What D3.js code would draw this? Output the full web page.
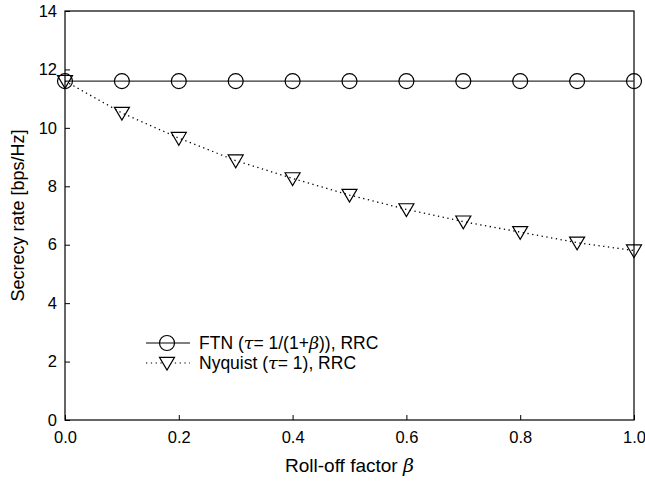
<!DOCTYPE html>
<html>
<head>
<meta charset="utf-8">
<script src="https://cdn.jsdelivr.net/npm/d3@7"></script>
<style>
	body { margin: 0; background: #fff; }
	svg { font-family: "Liberation Sans", Arial, sans-serif; }
</style>
</head>
<body>
<svg id="chart"></svg>
<script>
// roll-off factor values
const beta = [0, 0.1, 0.2, 0.3, 0.4, 0.5, 0.6, 0.7, 0.8, 0.9, 1.0];
const ftnRate = [11.6, 11.6, 11.6, 11.6, 11.6, 11.6, 11.6, 11.6, 11.6, 11.6, 11.6];
const nyquistRate = [11.6, 10.51, 9.65, 8.88, 8.27, 7.70, 7.21, 6.79, 6.43, 6.07, 5.80];
const xTicks = [0, 0.2, 0.4, 0.6, 0.8, 1.0];
const yTicks = [0, 2, 4, 6, 8, 10, 12, 14];

const width = 645, height = 485;
const margin = {top: 11, right: 11, bottom: 65, left: 65};
const w = width - margin.left - margin.right;
const h = height - margin.top - margin.bottom;

const svg = d3.select("#chart")
	.attr("width", width)
	.attr("height", height);

const g = svg.append("g")
	.attr("transform", `translate(${margin.left}, ${margin.top})`);

const x = d3.scaleLinear().domain([0, 1]).range([0, w]);
const y = d3.scaleLinear().domain([0, 14]).range([h, 0]);

// frame
g.append("rect")
	.attr("width", w)
	.attr("height", h)
	.attr("fill", "none")
	.attr("stroke", "black")
	.attr("stroke-width", 1.2);

const xAxis = g.append("g")
	.attr("transform", `translate(0, ${h})`)
	.call(d3.axisBottom(x).tickValues(xTicks).tickFormat(d3.format(".1f"))
		.tickSizeInner(-5).tickSizeOuter(0).tickPadding(11));
const yAxis = g.append("g")
	.call(d3.axisLeft(y).tickValues(yTicks).tickFormat(d3.format("d"))
		.tickSizeInner(-5).tickSizeOuter(0).tickPadding(8));

[xAxis, yAxis].forEach(a => {
	a.select(".domain").remove();
	a.selectAll("text").attr("font-size", 16.5).attr("fill", "black").attr("font-family", "Liberation Sans, Arial, sans-serif");
	a.selectAll("line").attr("stroke", "black");
});

// axis titles
svg.append("text")
	.attr("x", margin.left + w / 2)
	.attr("y", 472)
	.attr("text-anchor", "middle")
	.attr("font-size", 19)
	.html('Roll-off factor <tspan font-style="italic" font-family="DejaVu Serif, serif">β</tspan>');

svg.append("text")
	.attr("transform", `translate(24, ${margin.top + h / 2}) rotate(-90)`)
	.attr("text-anchor", "middle")
	.attr("font-size", 18)
	.text("Secrecy rate [bps/Hz]");

const line = d3.line()
	.x((d, i) => x(beta[i]))
	.y(d => y(d));

// FTN series
g.append("path")
	.datum(ftnRate)
	.attr("fill", "none")
	.attr("stroke", "#333")
	.attr("stroke-width", 1.2)
	.attr("d", line);

// Nyquist series
g.append("path")
	.datum(nyquistRate)
	.attr("fill", "none")
	.attr("stroke", "black")
	.attr("stroke-width", 1.3)
	.attr("stroke-dasharray", "1.3,3.5")
	.attr("d", line);

const tri = r => `M${-r},${-r * 0.75}L${r},${-r * 0.75}L0,${r * 0.95}Z`;

g.selectAll(".circ")
	.data(ftnRate)
	.join("circle")
	.attr("cx", (d, i) => x(beta[i]))
	.attr("cy", d => y(d))
	.attr("r", 7.5)
	.attr("fill", "none")
	.attr("stroke", "black")
	.attr("stroke-width", 1.2);

g.selectAll(".tri")
	.data(nyquistRate)
	.join("path")
	.attr("transform", (d, i) => `translate(${x(beta[i])}, ${y(d)})`)
	.attr("d", tri(7.5))
	.attr("fill", "none")
	.attr("stroke", "black")
	.attr("stroke-width", 1.2);

// legend
const legend = svg.append("g");
const rows = [
	{y: 343, dash: null, mark: "circle", label: 'FTN (<tspan font-style="italic" font-family="DejaVu Serif, serif">τ</tspan>= 1/(1+<tspan font-style="italic" font-family="DejaVu Serif, serif">β</tspan>)), RRC'},
	{y: 363, dash: "1.3,3.5", mark: "tri", label: 'Nyquist (<tspan font-style="italic" font-family="DejaVu Serif, serif">τ</tspan>= 1), RRC'}
];
rows.forEach(r => {
	legend.append("line")
		.attr("x1", 146).attr("x2", 190)
		.attr("y1", r.y).attr("y2", r.y)
		.attr("stroke", "black")
		.attr("stroke-width", 1.2)
		.attr("stroke-dasharray", r.dash);
	if (r.mark === "circle") {
		legend.append("circle")
			.attr("cx", 167).attr("cy", r.y).attr("r", 7.5)
			.attr("fill", "none").attr("stroke", "black").attr("stroke-width", 1.2);
	} else {
		legend.append("path")
			.attr("transform", `translate(167, ${r.y})`)
			.attr("d", tri(7.5))
			.attr("fill", "white").attr("stroke", "black").attr("stroke-width", 1.2);
	}
	legend.append("text")
		.attr("x", 199).attr("y", r.y + 6)
		.attr("font-size", 17.5)
		.html(r.label);
});
</script>
</body>
</html>
